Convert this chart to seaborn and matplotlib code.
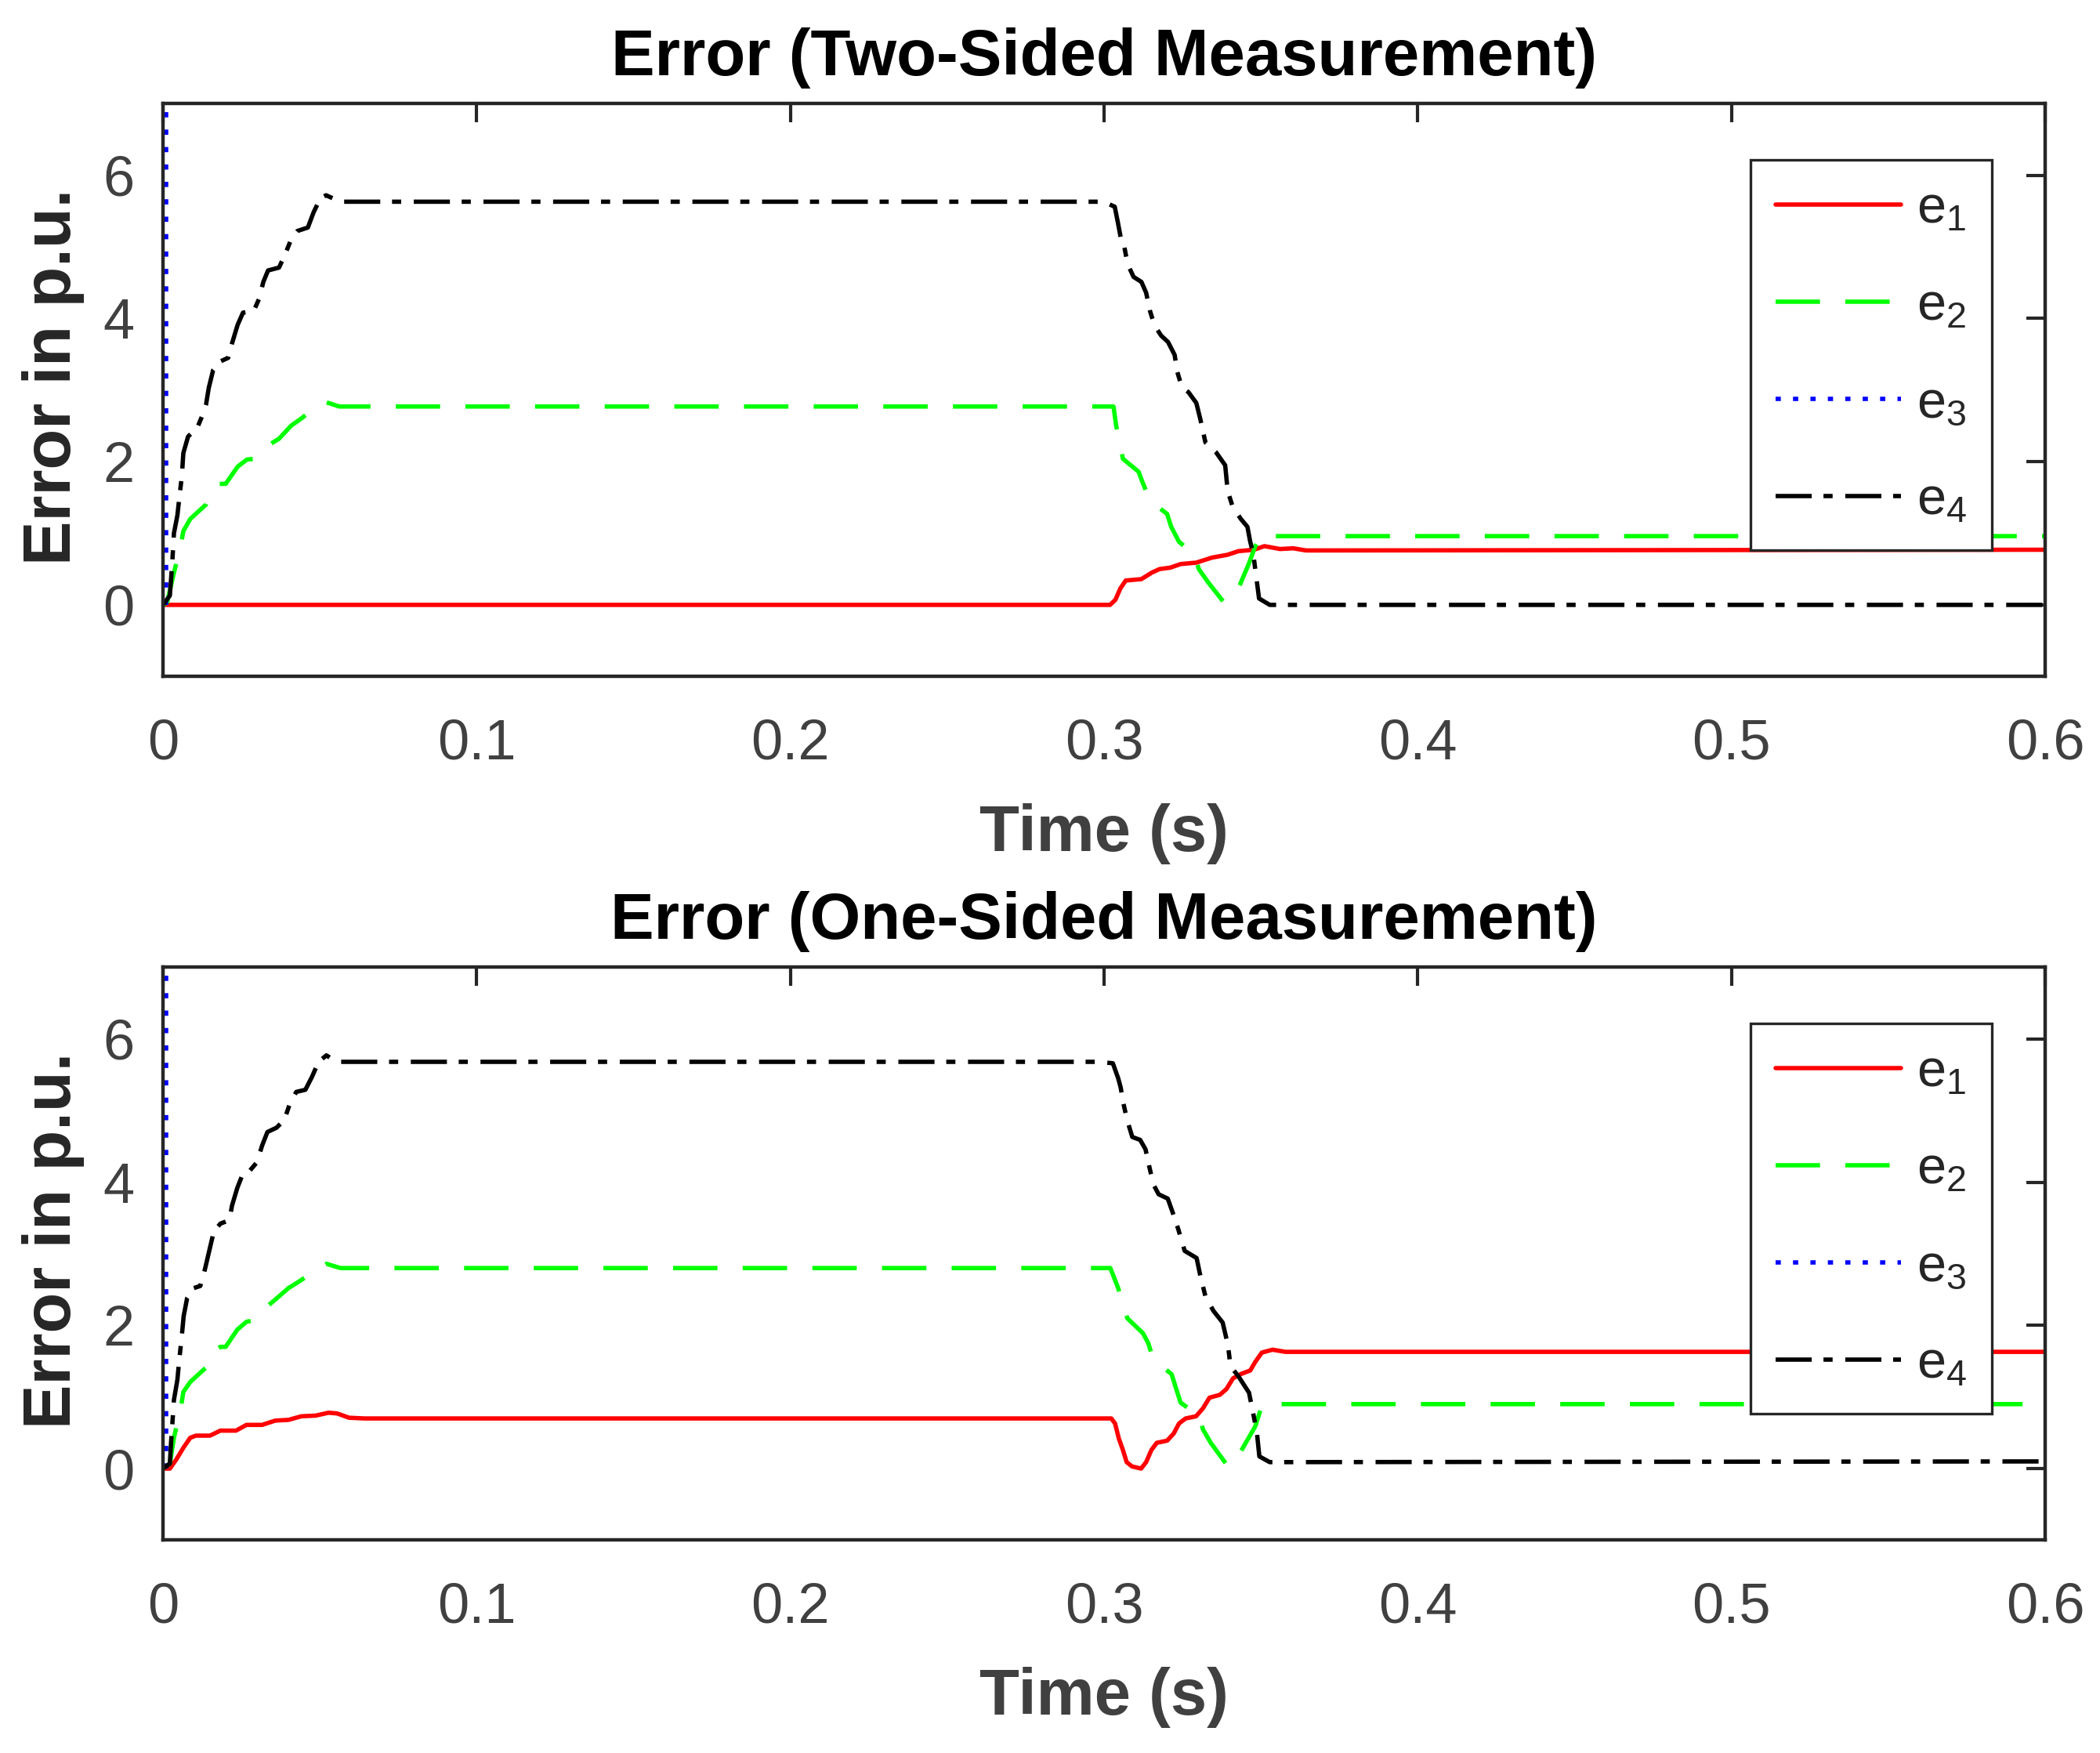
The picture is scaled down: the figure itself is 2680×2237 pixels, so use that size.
import numpy as np
import pandas as pd
import seaborn as sns
import matplotlib.pyplot as plt

sns.set_style("white")
plt.rcParams['font.family'] = ['Liberation Sans', 'DejaVu Sans']
plt.rcParams['mathtext.default'] = 'regular'

# ---------------- data ----------------
x_ticks = [0, 0.1, 0.2, 0.3, 0.4, 0.5, 0.6]
x_tick_labels = ['0', '0.1', '0.2', '0.3', '0.4', '0.5', '0.6']
y_ticks = [0, 2, 4, 6]
series_names = ['e1', 'e2', 'e3', 'e4']
legend_labels = [r'$e_1$', r'$e_2$', r'$e_3$', r'$e_4$']
titles = ['Error (Two-Sided Measurement)', 'Error (One-Sided Measurement)']

# top panel (two-sided)
t_top_e1 = [0, 0.3019, 0.3036, 0.3052, 0.3069, 0.3119, 0.3152, 0.3177, 0.3211, 0.3244,
            0.3294, 0.3344, 0.3394, 0.3428, 0.3478, 0.3511, 0.3561, 0.3603, 0.3644, 0.6]
top_e1 = [0, 0, 0.07, 0.23, 0.34, 0.36, 0.45, 0.50, 0.52, 0.57,
          0.59, 0.66, 0.70, 0.75, 0.77, 0.82, 0.78, 0.79, 0.76, 0.77]

t_top_e2 = [0, 0.0013, 0.0035, 0.0056, 0.0065, 0.0087, 0.0137, 0.0154, 0.0175, 0.020,
            0.0238, 0.0268, 0.0293, 0.0314, 0.037, 0.0408, 0.044, 0.0491, 0.052, 0.0562,
            0.303, 0.3039, 0.3048, 0.306, 0.311, 0.3122, 0.3147, 0.3201, 0.3214, 0.3239,
            0.3289, 0.3302, 0.3331, 0.3381, 0.3402, 0.3432, 0.3461, 0.3482, 0.3502, 0.352, 0.6]
top_e2 = [0, 0.03, 0.45, 0.81, 1.03, 1.20, 1.40, 1.57, 1.69, 1.69,
          1.93, 2.03, 2.04, 2.17, 2.32, 2.50, 2.60, 2.77, 2.83, 2.77,
          2.77, 2.49, 2.32, 2.04, 1.86, 1.72, 1.45, 1.27, 1.09, 0.88,
          0.70, 0.50, 0.32, 0.04, 0.20, 0.27, 0.57, 0.82, 0.98, 0.96, 0.96]

t_top_e3 = [0.0011, 0.0011]
top_e3 = [0, 12]

t_top_e4 = [0, 0.0022, 0.0026, 0.003, 0.0035, 0.0046, 0.0052, 0.006, 0.0065, 0.008,
            0.011, 0.0128, 0.0137, 0.0146, 0.016, 0.0183, 0.0208, 0.022, 0.0238, 0.0255,
            0.029, 0.0306, 0.032, 0.0335, 0.037, 0.039, 0.041, 0.0428, 0.0462, 0.048,
            0.0502, 0.052, 0.0555, 0.0562, 0.2998, 0.3034, 0.3044, 0.3056, 0.3065, 0.3075,
            0.3094, 0.3119, 0.3134, 0.3146, 0.3161, 0.3182, 0.3204, 0.3225, 0.3233, 0.3248,
            0.3269, 0.3294, 0.3307, 0.3323, 0.3357, 0.3386, 0.3394, 0.341, 0.3436, 0.3457,
            0.3465, 0.3476, 0.3486, 0.3494, 0.3528, 0.6]
top_e4 = [0, 0.13, 0.37, 0.62, 1.0, 1.25, 1.49, 1.79, 2.12, 2.35,
          2.48, 2.67, 2.79, 3.03, 3.28, 3.40, 3.45, 3.65, 3.91, 4.08,
          4.11, 4.27, 4.51, 4.67, 4.71, 4.90, 5.12, 5.22, 5.27, 5.48,
          5.68, 5.72, 5.65, 5.63, 5.63, 5.56, 5.34, 5.06, 4.99, 4.76,
          4.58, 4.51, 4.36, 4.11, 3.90, 3.76, 3.67, 3.49, 3.26, 3.04,
          2.97, 2.82, 2.59, 2.27, 2.13, 1.95, 1.59, 1.37, 1.20, 1.09,
          0.90, 0.70, 0.36, 0.09, 0.0, 0.0]

# bottom panel (one-sided)
t_bot_e1 = [0, 0.0022, 0.0043, 0.0065, 0.0087, 0.0105, 0.015, 0.0183, 0.0233, 0.0266,
            0.0316, 0.0358, 0.04, 0.0441, 0.0487, 0.0528, 0.0555, 0.0593, 0.0643, 0.3023,
            0.3035, 0.3047, 0.306, 0.3072, 0.3089, 0.3118, 0.3134, 0.3151, 0.3168, 0.3201,
            0.3222, 0.3239, 0.326, 0.3293, 0.3315, 0.3336, 0.3369, 0.339, 0.3411, 0.3436,
            0.3466, 0.3482, 0.3503, 0.3537, 0.3578, 0.6]
bot_e1 = [0, 0, 0.13, 0.29, 0.43, 0.46, 0.46, 0.53, 0.53, 0.61,
          0.61, 0.67, 0.68, 0.73, 0.74, 0.78, 0.77, 0.71, 0.70, 0.70,
          0.63, 0.42, 0.26, 0.09, 0.03, 0.0, 0.09, 0.26, 0.36, 0.39,
          0.49, 0.63, 0.70, 0.73, 0.84, 0.99, 1.03, 1.11, 1.26, 1.32,
          1.37, 1.49, 1.62, 1.66, 1.63, 1.63]

t_bot_e2 = [0, 0.0022, 0.0035, 0.0056, 0.0065, 0.0087, 0.0137, 0.0158, 0.0183, 0.020,
            0.0237, 0.0266, 0.0291, 0.0312, 0.0358, 0.040, 0.0433, 0.0487, 0.0521, 0.0566,
            0.302, 0.3045, 0.3057, 0.3074, 0.3124, 0.3141, 0.3157, 0.3215, 0.3228, 0.3244,
            0.3303, 0.3315, 0.334, 0.3395, 0.3407, 0.3436, 0.3482, 0.3503, 0.352, 0.6]
bot_e2 = [0, 0.07, 0.43, 0.82, 1.07, 1.21, 1.41, 1.63, 1.70, 1.70,
          1.94, 2.05, 2.07, 2.19, 2.36, 2.52, 2.61, 2.77, 2.86, 2.80,
          2.80, 2.52, 2.35, 2.10, 1.89, 1.75, 1.52, 1.32, 1.14, 0.92,
          0.74, 0.55, 0.36, 0.03, 0.13, 0.24, 0.59, 0.88, 0.90, 0.90]

t_bot_e3 = [0.0011, 0.0011]
bot_e3 = [0, 12]

t_bot_e4 = [0, 0.0022, 0.0026, 0.003, 0.0035, 0.0046, 0.0052, 0.006, 0.0066, 0.0077,
            0.0098, 0.0119, 0.0132, 0.0147, 0.0162, 0.0183, 0.0212, 0.022, 0.0237, 0.0254,
            0.0275, 0.030, 0.0316, 0.0333, 0.0362, 0.0387, 0.0404, 0.0425, 0.0454, 0.0475,
            0.0496, 0.0521, 0.055, 0.0566, 0.2982, 0.3028, 0.3045, 0.3053, 0.3061, 0.3074,
            0.309, 0.3115, 0.3132, 0.3144, 0.3157, 0.3174, 0.3203, 0.322, 0.3236, 0.3257,
            0.3295, 0.3307, 0.3324, 0.3349, 0.3378, 0.3395, 0.3403, 0.3428, 0.3462, 0.3474,
            0.3487, 0.3495, 0.3528, 0.6]
bot_e4 = [0, 0.07, 0.38, 0.63, 0.96, 1.24, 1.52, 1.85, 2.13, 2.38,
          2.52, 2.55, 2.75, 3.03, 3.31, 3.42, 3.47, 3.67, 3.92, 4.11,
          4.15, 4.28, 4.51, 4.70, 4.76, 4.87, 5.09, 5.26, 5.29, 5.47,
          5.68, 5.77, 5.69, 5.68, 5.68, 5.66, 5.45, 5.32, 5.11, 4.86,
          4.63, 4.59, 4.46, 4.22, 3.97, 3.83, 3.77, 3.56, 3.35, 3.04,
          2.94, 2.69, 2.39, 2.20, 2.04, 1.72, 1.43, 1.29, 1.06, 0.80,
          0.51, 0.17, 0.09, 0.10]

# ---------------- styles ----------------
line_colors = {'e1': '#ff0000', 'e2': '#00ff00', 'e3': '#0000ff', 'e4': '#000000'}
line_styles = {'e1': '-',
               'e2': (0, (10.2, 5.8)),
               'e3': (0, (1.2, 2.8)),
               'e4': (0, (8.3, 2.7, 2.1, 2.9))}
LW = 2.0
SPINE = '#262626'
TICK_TXT = '#404040'


def draw_panel(ax, title, panel):
    for name, (t, v) in zip(series_names, panel):
        df = pd.DataFrame({'t': t, 'v': v})
        sns.lineplot(data=df, x='t', y='v', ax=ax, estimator=None, sort=False,
                     color=line_colors[name], linewidth=LW,
                     linestyle=line_styles[name], legend=False)

    ax.set_xlim(0, 0.6)
    ax.set_ylim(-1, 7)
    ax.set_xticks(x_ticks)
    ax.set_xticklabels(x_tick_labels)
    ax.set_yticks(y_ticks)
    ax.tick_params(axis='both', direction='in', length=8.6, width=1.5,
                   color=SPINE, labelsize=26, labelcolor=TICK_TXT,
                   top=True, right=True)
    ax.tick_params(axis='x', pad=19)
    ax.tick_params(axis='y', pad=13)
    for sp in ax.spines.values():
        sp.set_color(SPINE)
        sp.set_linewidth(1.6)

    ax.set_title(title, fontsize=30, fontweight='bold', color='black', pad=13)
    ax.set_xlabel('Time (s)', fontsize=30, fontweight='bold', color=TICK_TXT, labelpad=15)
    ax.set_ylabel('Error in p.u.', fontsize=30.5, fontweight='bold', color='#262626')
    ax.yaxis.set_label_coords(-0.0416, 0.523)
    ax.grid(False)

    handles = ax.get_lines()[:4]
    leg = ax.legend(handles, legend_labels, loc='upper right',
                    bbox_to_anchor=(0.9716, 0.9015), borderaxespad=0,
                    fontsize=24, frameon=True, fancybox=False, shadow=False,
                    edgecolor=SPINE, framealpha=1, handlelength=2.4,
                    handletextpad=0.3, labelspacing=0.93, borderpad=0.48)
    leg.get_frame().set_linewidth(1.2)


fig = plt.figure(figsize=(13.4, 11.185), dpi=200)
ax_top = fig.add_axes([0.0776, 0.6141, 0.8963, 0.3268])
ax_bot = fig.add_axes([0.0776, 0.1214, 0.8963, 0.3268])

draw_panel(ax_top, titles[0],
           [(t_top_e1, top_e1), (t_top_e2, top_e2), (t_top_e3, top_e3), (t_top_e4, top_e4)])
draw_panel(ax_bot, titles[1],
           [(t_bot_e1, bot_e1), (t_bot_e2, bot_e2), (t_bot_e3, bot_e3), (t_bot_e4, bot_e4)])

fig.savefig('out.png', dpi=200, facecolor='white')
